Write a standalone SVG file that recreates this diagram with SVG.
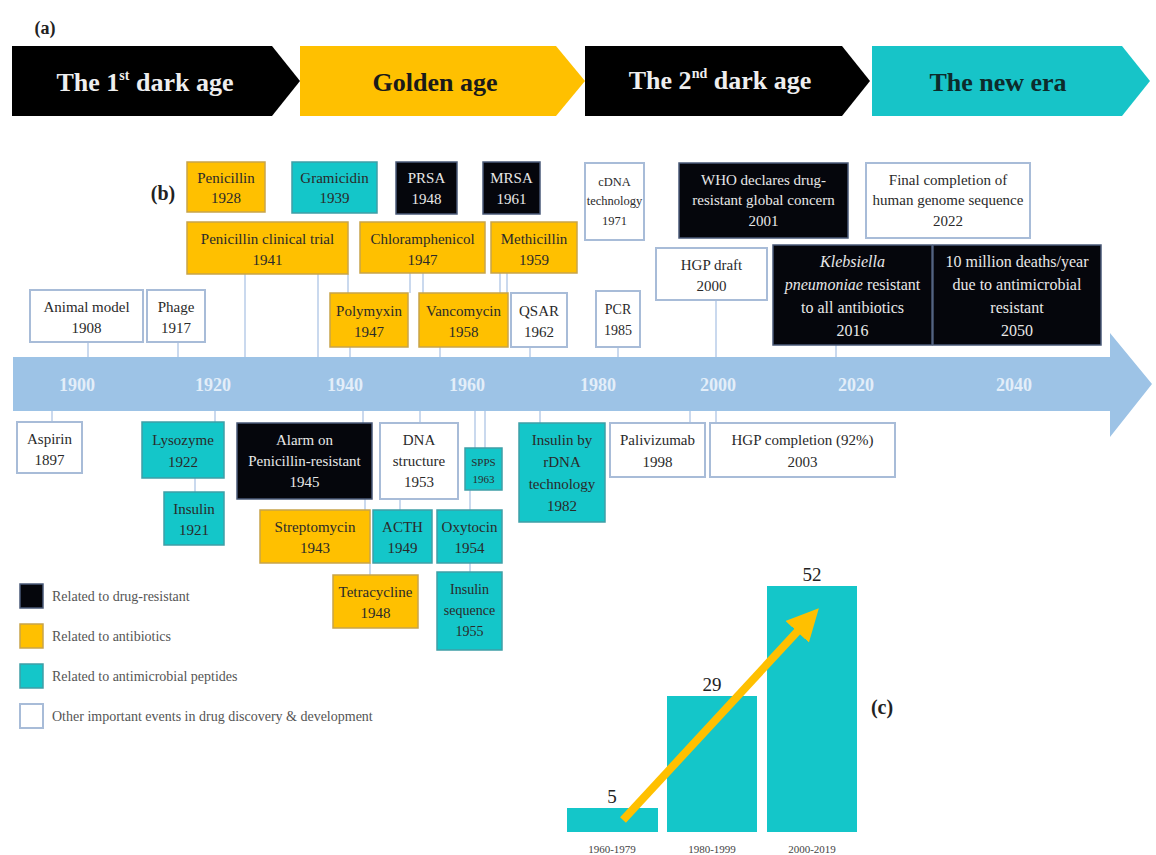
<svg xmlns="http://www.w3.org/2000/svg" width="1156" height="855" viewBox="0 0 1156 855">
<defs>
<style>
text{font-family:"Liberation Serif","Times New Roman",serif;text-anchor:middle}
.k{fill:#05060c;stroke:#4a5a78;stroke-width:1.5}
.o{fill:#ffc000;stroke:#c8a44a;stroke-width:1.5}
.t{fill:#14c6c9;stroke:#3f9ea6;stroke-width:1.5}
.w{fill:#ffffff;stroke:#a8bcd8;stroke-width:2}
.bt{font-size:15px}
.lw{fill:#e8e8e8}
.ld{fill:#2a2a2a}
.era{font-size:26px;font-weight:bold}
.yr{font-size:18px;font-weight:bold;fill:#e3eef9}
.leg{font-size:14px;fill:#555;text-anchor:start}
.lab{font-size:20px;font-weight:bold;fill:#222}
.cn{stroke:#b9cde8;stroke-width:1.5;fill:none}
</style>
<marker id="ah" markerWidth="4" markerHeight="4" refX="2" refY="2" orient="auto" markerUnits="strokeWidth">
<path d="M0,0 L4,2 L0,4 z" fill="#ffc000"/>
</marker>
</defs>
<rect width="1156" height="855" fill="#ffffff"/>

<text x="45" y="34" class="lab" style="font-size:18px">(a)</text>
<g id="era1"><polygon points="12,46 272,46 300,81 272,116 12,116" fill="#000"/><text x="145" y="91" class="era" fill="#eee">The 1<tspan font-size="14" dy="-11">st</tspan><tspan dy="11"> dark age</tspan></text></g>
<g id="era2"><polygon points="300,46 556,46 585,81 556,116 300,116" fill="#ffc000"/><text x="435" y="91" class="era" fill="#1a1a1a">Golden age</text></g>
<g id="era3"><polygon points="585,46 842,46 870,81 842,116 585,116" fill="#000"/><text x="720" y="89" class="era" fill="#eee">The 2<tspan font-size="14" dy="-11">nd</tspan><tspan dy="11"> dark age</tspan></text></g>
<g id="era4"><polygon points="872,46 1122,46 1150,81 1122,116 872,116" fill="#17c4c8"/><text x="998" y="91" class="era" fill="#0d2b2b">The new era</text></g>

<text x="163" y="200" class="lab">(b)</text>

<g id="connectors">
<line class="cn" x1="88" y1="342" x2="88" y2="357"/>
<line class="cn" x1="178" y1="342" x2="178" y2="357"/>
<line class="cn" x1="245" y1="274" x2="245" y2="357"/>
<line class="cn" x1="318" y1="274" x2="318" y2="357"/>
<line class="cn" x1="348" y1="274" x2="348" y2="293"/>
<line class="cn" x1="410" y1="273" x2="410" y2="293"/>
<line class="cn" x1="423" y1="273" x2="423" y2="293"/>
<line class="cn" x1="500" y1="273" x2="500" y2="293"/>
<line class="cn" x1="507" y1="273" x2="507" y2="293"/>
<line class="cn" x1="350" y1="347" x2="350" y2="357"/>
<line class="cn" x1="440" y1="347" x2="440" y2="357"/>
<line class="cn" x1="530" y1="347" x2="530" y2="357"/>
<line class="cn" x1="618" y1="347" x2="618" y2="357"/>
<line class="cn" x1="716" y1="300" x2="716" y2="357"/>
<line class="cn" x1="836" y1="345" x2="836" y2="357"/>
<line class="cn" x1="52" y1="411" x2="52" y2="422"/>
<line class="cn" x1="215" y1="411" x2="215" y2="422"/>
<line class="cn" x1="363" y1="411" x2="363" y2="423"/>
<line class="cn" x1="420" y1="411" x2="420" y2="423"/>
<line class="cn" x1="475" y1="411" x2="475" y2="448"/>
<line class="cn" x1="485" y1="411" x2="485" y2="448"/>
<line class="cn" x1="540" y1="411" x2="540" y2="423"/>
<line class="cn" x1="690" y1="411" x2="690" y2="423"/>
<line class="cn" x1="716" y1="411" x2="716" y2="423"/>
<line class="cn" x1="195" y1="478" x2="195" y2="492"/>
<line class="cn" x1="365" y1="499" x2="365" y2="510"/>
<line class="cn" x1="400" y1="499" x2="400" y2="510"/>
<line class="cn" x1="470" y1="490" x2="470" y2="510"/>
<line class="cn" x1="470" y1="563" x2="470" y2="572"/>
<line class="cn" x1="370" y1="563" x2="370" y2="575"/>
</g>

<g id="timeline">
<polygon points="13,357 1110,357 1110,333 1152,384 1110,437 1110,411 13,411" fill="#9dc3e6"/>
<text x="77" y="391" class="yr">1900</text>
<text x="213" y="391" class="yr">1920</text>
<text x="345" y="391" class="yr">1940</text>
<text x="467" y="391" class="yr">1960</text>
<text x="598" y="391" class="yr">1980</text>
<text x="718" y="391" class="yr">2000</text>
<text x="856" y="391" class="yr">2020</text>
<text x="1014" y="391" class="yr">2040</text>
</g>

<g id="n_penicillin"><rect x="187" y="162" width="78" height="50" class="o"/><text x="226" y="183" class="bt ld">Penicillin</text><text x="226" y="203" class="bt ld">1928</text></g>
<g id="n_gramicidin"><rect x="292" y="162" width="85" height="51" class="t"/><text x="334.5" y="183" class="bt ld">Gramicidin</text><text x="334.5" y="203" class="bt ld">1939</text></g>
<g id="n_prsa"><rect x="396" y="162" width="61" height="52" class="k"/><text x="426.5" y="183" class="bt lw">PRSA</text><text x="426.5" y="204" class="bt lw">1948</text></g>
<g id="n_mrsa"><rect x="483" y="162" width="57" height="52" class="k"/><text x="511.5" y="183" class="bt lw">MRSA</text><text x="511.5" y="204" class="bt lw">1961</text></g>
<g id="n_pct"><rect x="187" y="222" width="161" height="52" class="o"/><text x="267.5" y="244" class="bt ld">Penicillin clinical trial</text><text x="267.5" y="265" class="bt ld">1941</text></g>
<g id="n_chloram"><rect x="360" y="222" width="125" height="51" class="o"/><text x="422.5" y="244" class="bt ld">Chloramphenicol</text><text x="422.5" y="265" class="bt ld">1947</text></g>
<g id="n_methicillin"><rect x="491" y="222" width="86" height="51" class="o"/><text x="534" y="244" class="bt ld">Methicillin</text><text x="534" y="265" class="bt ld">1959</text></g>
<g id="n_animal"><rect x="30" y="290" width="113" height="52" class="w"/><text x="86.5" y="312" class="bt ld">Animal model</text><text x="86.5" y="333" class="bt ld">1908</text></g>
<g id="n_phage"><rect x="147" y="290" width="58" height="52" class="w"/><text x="176" y="312" class="bt ld">Phage</text><text x="176" y="333" class="bt ld">1917</text></g>
<g id="n_polymyxin"><rect x="330" y="293" width="78" height="54" class="o"/><text x="369" y="316" class="bt ld">Polymyxin</text><text x="369" y="337" class="bt ld">1947</text></g>
<g id="n_vancomycin"><rect x="419" y="293" width="89" height="54" class="o"/><text x="463.5" y="316" class="bt ld">Vancomycin</text><text x="463.5" y="337" class="bt ld">1958</text></g>
<g id="n_qsar"><rect x="511" y="293" width="56" height="54" class="w"/><text x="539" y="316" class="bt ld">QSAR</text><text x="539" y="337" class="bt ld">1962</text></g>
<g id="n_cdna"><rect x="585" y="163" width="59" height="77" class="w"/><text x="614.5" y="186" class="ld" style="font-size:12.5px">cDNA</text><text x="614.5" y="205" class="ld" style="font-size:12.5px">technology</text><text x="614.5" y="225" class="ld" style="font-size:12.5px">1971</text></g>
<g id="n_who"><rect x="679" y="163" width="169" height="75" class="k"/><text x="763.5" y="185" class="bt lw">WHO declares drug-</text><text x="763.5" y="205" class="bt lw">resistant global concern</text><text x="763.5" y="226" class="bt lw">2001</text></g>
<g id="n_genome"><rect x="866" y="163" width="164" height="75" class="w"/><text x="948" y="185" class="bt ld">Final completion of</text><text x="948" y="205" class="bt ld">human genome sequence</text><text x="948" y="226" class="bt ld">2022</text></g>
<g id="n_hgpdraft"><rect x="656" y="248" width="111" height="52" class="w"/><text x="711.5" y="270" class="bt ld">HGP draft</text><text x="711.5" y="291" class="bt ld">2000</text></g>
<g id="n_pcr"><rect x="596" y="291" width="44" height="56" class="w"/><text x="618" y="314" class="ld" style="font-size:14px">PCR</text><text x="618" y="335" class="ld" style="font-size:14px">1985</text></g>
<g id="n_kleb"><rect x="773" y="245" width="159" height="100" class="k"/><text x="852.5" y="267" class="lw" style="font-size:16px" font-style="italic">Klebsiella</text><text x="852.5" y="290" class="lw" style="font-size:16px"><tspan font-style="italic">pneumoniae</tspan> resistant</text><text x="852.5" y="313" class="lw" style="font-size:16px">to all antibiotics</text><text x="852.5" y="336" class="lw" style="font-size:16px">2016</text></g>
<g id="n_deaths"><rect x="933" y="245" width="168" height="100" class="k"/><text x="1017" y="267" class="lw" style="font-size:16px">10 million deaths/year</text><text x="1017" y="290" class="lw" style="font-size:16px">due to antimicrobial</text><text x="1017" y="313" class="lw" style="font-size:16px">resistant</text><text x="1017" y="336" class="lw" style="font-size:16px">2050</text></g>

<g id="n_aspirin"><rect x="17" y="422" width="65" height="51" class="w"/><text x="49.5" y="444" class="bt ld">Aspirin</text><text x="49.5" y="465" class="bt ld">1897</text></g>
<g id="n_lysozyme"><rect x="142" y="422" width="82" height="56" class="t"/><text x="183" y="445" class="bt ld">Lysozyme</text><text x="183" y="467" class="bt ld">1922</text></g>
<g id="n_alarm"><rect x="237" y="423" width="135" height="76" class="k"/><text x="304.5" y="445" class="bt lw">Alarm on</text><text x="304.5" y="466" class="bt lw">Penicillin-resistant</text><text x="304.5" y="487" class="bt lw">1945</text></g>
<g id="n_dna"><rect x="380" y="423" width="78" height="76" class="w"/><text x="419" y="445" class="bt ld">DNA</text><text x="419" y="466" class="bt ld">structure</text><text x="419" y="487" class="bt ld">1953</text></g>
<g id="n_spps"><rect x="465" y="448" width="37" height="42" class="t"/><text x="483.5" y="466" class="ld" style="font-size:11px">SPPS</text><text x="483.5" y="483" class="ld" style="font-size:11px">1963</text></g>
<g id="n_insrdna"><rect x="519" y="423" width="86" height="99" class="t"/><text x="562" y="445" class="bt ld">Insulin by</text><text x="562" y="467" class="bt ld">rDNA</text><text x="562" y="489" class="bt ld">technology</text><text x="562" y="511" class="bt ld">1982</text></g>
<g id="n_palivizumab"><rect x="610" y="423" width="95" height="54" class="w"/><text x="657.5" y="445" class="bt ld">Palivizumab</text><text x="657.5" y="467" class="bt ld">1998</text></g>
<g id="n_hgpcomp"><rect x="710" y="423" width="185" height="54" class="w"/><text x="802.5" y="445" class="bt ld">HGP completion (92%)</text><text x="802.5" y="467" class="bt ld">2003</text></g>
<g id="n_insulin"><rect x="164" y="492" width="60" height="53" class="t"/><text x="194" y="514" class="bt ld">Insulin</text><text x="194" y="535" class="bt ld">1921</text></g>
<g id="n_strepto"><rect x="260" y="510" width="110" height="53" class="o"/><text x="315" y="532" class="bt ld">Streptomycin</text><text x="315" y="553" class="bt ld">1943</text></g>
<g id="n_acth"><rect x="373" y="510" width="59" height="53" class="t"/><text x="402.5" y="532" class="bt ld">ACTH</text><text x="402.5" y="553" class="bt ld">1949</text></g>
<g id="n_oxytocin"><rect x="437" y="510" width="65" height="53" class="t"/><text x="469.5" y="532" class="bt ld">Oxytocin</text><text x="469.5" y="553" class="bt ld">1954</text></g>
<g id="n_tetra"><rect x="333" y="575" width="85" height="53" class="o"/><text x="375.5" y="597" class="bt ld">Tetracycline</text><text x="375.5" y="618" class="bt ld">1948</text></g>
<g id="n_insseq"><rect x="437" y="572" width="65" height="78" class="t"/><text x="469.5" y="594" class="ld" style="font-size:14px">Insulin</text><text x="469.5" y="615" class="ld" style="font-size:14px">sequence</text><text x="469.5" y="636" class="ld" style="font-size:14px">1955</text></g>

<g id="legend">
<rect x="20" y="584" width="23" height="24" class="k"/><text x="52" y="601" class="leg">Related to drug-resistant</text>
<rect x="20" y="624" width="23" height="24" class="o"/><text x="52" y="641" class="leg">Related to antibiotics</text>
<rect x="20" y="664" width="23" height="24" class="t"/><text x="52" y="681" class="leg">Related to antimicrobial peptides</text>
<rect x="20" y="704" width="23" height="24" class="w"/><text x="52" y="721" class="leg">Other important events in drug discovery &amp; development</text>
</g>

<g id="chart">
<rect x="567" y="808" width="91" height="24" fill="#14c6c9"/>
<rect x="667" y="696" width="90" height="136" fill="#14c6c9"/>
<rect x="767" y="586" width="90" height="246" fill="#14c6c9"/>
<text x="612" y="803" style="font-size:19px" fill="#222">5</text>
<text x="712" y="691" style="font-size:19px" fill="#222">29</text>
<text x="812" y="581" style="font-size:19px" fill="#222">52</text>
<text x="612" y="853" style="font-size:11px" fill="#444">1960-1979</text>
<text x="712" y="853" style="font-size:11px" fill="#444">1980-1999</text>
<text x="812" y="853" style="font-size:11px" fill="#444">2000-2019</text>
<line x1="623" y1="820" x2="808" y2="620" stroke="#ffc000" stroke-width="8" marker-end="url(#ah)"/>
<text x="882" y="714" class="lab">(c)</text>
</g>
</svg>
